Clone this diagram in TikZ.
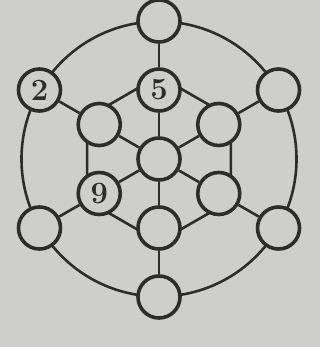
\documentclass[tikz,border=0pt]{standalone}
\definecolor{bgc}{RGB}{206,206,204}
\definecolor{inkc}{RGB}{45,45,45}
\begin{document}
\begin{tikzpicture}[x=1pt,y=1pt,
  spot/.style={circle,draw=inkc,line width=3.6pt,fill=bgc,minimum size=42pt,inner sep=0pt,
    text=inkc,font=\fontsize{31}{31}\selectfont\bfseries},
  link/.style={draw=inkc,line width=2.6pt}]
\fill[bgc] (-159,-188) rectangle (161,159);
\useasboundingbox (-159,-188) rectangle (161,159);
% hexagon vertices for inner ring edges
\foreach \a [count=\i] in {90,150,210,270,330,30}{
  \coordinate (h\i) at (\a:83);
}
% outer ring circle
\draw[link] (0,0) circle (137.5);
% inner hexagon edges
\draw[link] (h1) -- (h2) -- (h3) -- (h4) -- (h5) -- (h6) -- cycle;
% nodes
\node[spot] (c) at (0,0) {};
\node[spot] (i1) at (90:69) {5};
\node[spot] (i2) at (150:69) {};
\node[spot] (i3) at (210:69) {9};
\node[spot] (i4) at (270:69) {};
\node[spot] (i5) at (330:69) {};
\node[spot] (i6) at (30:69) {};
\node[spot] (o1) at (90:138) {};
\node[spot] (o2) at (150:138) {2};
\node[spot] (o3) at (210:138) {};
\node[spot] (o4) at (270:138) {};
\node[spot] (o5) at (330:138) {};
\node[spot] (o6) at (30:138) {};
% spokes
\foreach \i in {1,...,6}{
  \draw[link] (c) -- (i\i);
  \draw[link] (i\i) -- (o\i);
}
\end{tikzpicture}
\end{document}
